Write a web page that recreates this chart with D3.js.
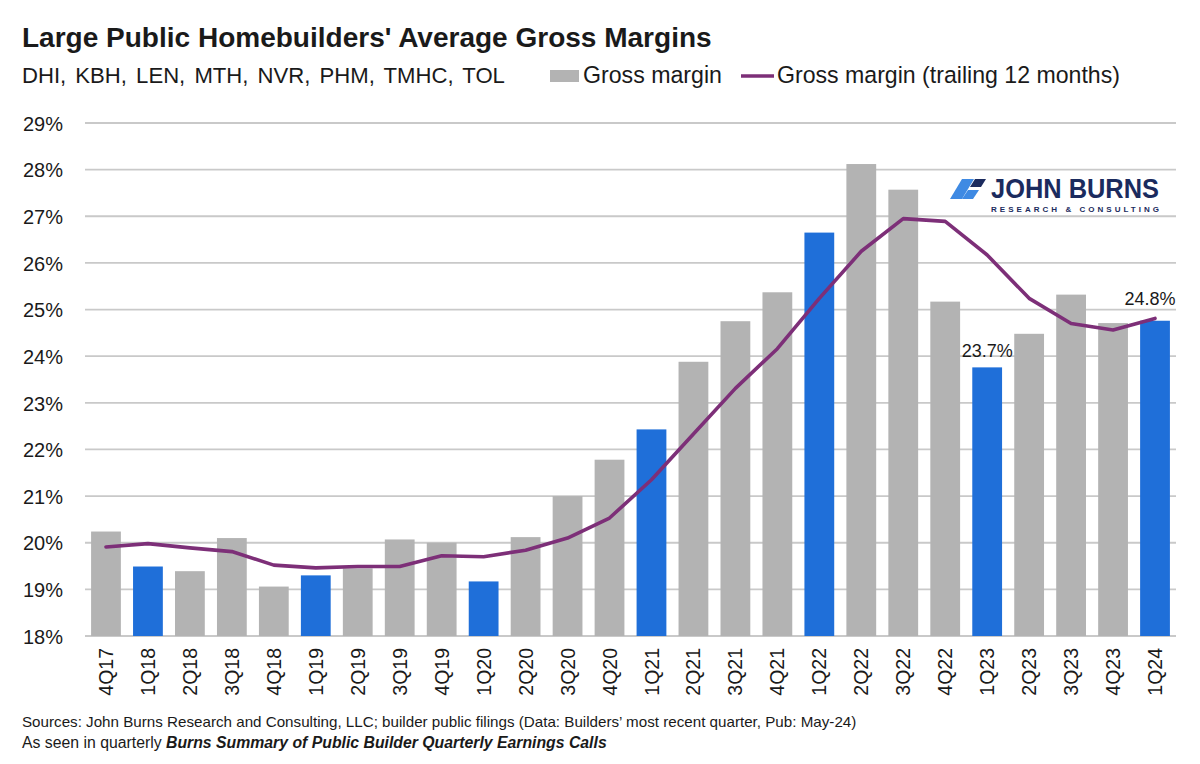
<!DOCTYPE html>
<html>
<head>
<meta charset="utf-8">
<script src="https://cdn.jsdelivr.net/npm/d3@7/dist/d3.min.js"></script>
<style>
  html, body { margin: 0; padding: 0; background: #ffffff; }
  svg { display: block; font-family: "Liberation Sans", Arial, Helvetica, sans-serif; }
</style>
</head>
<body>
<svg id="chart" width="1200" height="764"></svg>
<script>
// ---------------- DATA ----------------
const categories = ["4Q17","1Q18","2Q18","3Q18","4Q18","1Q19","2Q19","3Q19","4Q19","1Q20","2Q20","3Q20","4Q20",
  "1Q21","2Q21","3Q21","4Q21","1Q22","2Q22","3Q22","4Q22","1Q23","2Q23","3Q23","4Q23","1Q24"];
const grossMargin = [20.24,19.49,19.39,20.10,19.06,19.30,19.45,20.07,20.00,19.17,20.12,21.00,21.78,
  22.43,23.88,24.75,25.37,26.65,28.12,27.57,25.17,23.76,24.48,25.32,24.71,24.76];
const trailing12 = [19.91,19.98,19.89,19.81,19.52,19.46,19.49,19.49,19.72,19.70,19.84,20.10,20.53,
  21.35,22.33,23.31,24.16,25.24,26.25,26.95,26.89,26.17,25.24,24.70,24.56,24.81];
const yTicks = [18,19,20,21,22,23,24,25,26,27,28,29];
const dataLabels = [{cat:"1Q23", text:"23.7%", series:"bar"}, {cat:"1Q24", text:"24.8%", series:"line"}];

const titleText = "Large Public Homebuilders' Average Gross Margins";
const subtitleText = "DHI, KBH, LEN, MTH, NVR, PHM, TMHC, TOL";
const legendBar = "Gross margin";
const legendLine = "Gross margin (trailing 12 months)";
const sourceText = "Sources: John Burns Research and Consulting, LLC; builder public filings (Data: Builders\u2019 most recent quarter, Pub: May-24)";
const seenPrefix = "As seen in quarterly ";
const seenBold = "Burns Summary of Public Builder Quarterly Earnings Calls";

// ---------------- STYLE ----------------
const GRAY = "#b3b3b3", BLUE = "#1f6fd9", PURPLE = "#7d2f78", GRID = "#c9c9c9", TEXT = "#1a1a1a", NAVY = "#1b2b5e", LBLUE = "#3f8ae3";

const svg = d3.select("#chart");

function fit(sel, target) {
  const node = sel.node();
  const fs = parseFloat(sel.attr("font-size"));
  const len = node.getComputedTextLength();
  if (len > 0) sel.attr("font-size", (fs * target / len).toFixed(2));
  return sel;
}

// ---------------- SCALES ----------------
const x = d3.scaleBand().domain(categories).range([85, 1176]).paddingInner(0.29).paddingOuter(0.145);
const y = d3.scaleLinear().domain([18, 29]).range([636, 123]);

// gridlines
svg.append("g").selectAll("line").data(yTicks).join("line")
  .attr("x1", 85).attr("x2", 1176)
  .attr("y1", d => y(d)).attr("y2", d => y(d))
  .attr("stroke", GRID).attr("stroke-width", 1.8);

// y-axis labels
const yAxis = d3.axisLeft(y).tickValues(yTicks).tickFormat(d => d + "%").tickSize(0).tickPadding(0);
const yg = svg.append("g").attr("transform", "translate(63,0)").call(yAxis);
yg.select(".domain").remove();
yg.selectAll("text").attr("font-size", 20).attr("fill", TEXT)
  .attr("font-family", "'Liberation Sans', Arial, sans-serif").attr("dy", "0.36em");

// bars
svg.append("g").selectAll("rect").data(categories).join("rect")
  .attr("x", d => x(d))
  .attr("width", x.bandwidth())
  .attr("y", (d, i) => y(grossMargin[i]))
  .attr("height", (d, i) => y(18) - y(grossMargin[i]))
  .attr("fill", d => d.startsWith("1Q") ? BLUE : GRAY);

// line
const line = d3.line().x((d, i) => x(categories[i]) + x.bandwidth() / 2).y(d => y(d));
svg.append("path").datum(trailing12)
  .attr("d", line).attr("fill", "none")
  .attr("stroke", PURPLE).attr("stroke-width", 3.6)
  .attr("stroke-linejoin", "round").attr("stroke-linecap", "round");

// x-axis labels
const xAxis = d3.axisBottom(x).tickSize(0).tickPadding(0);
const xg = svg.append("g").attr("transform", "translate(0,648)").call(xAxis);
xg.select(".domain").remove();
xg.selectAll("text")
  .attr("font-size", 19.5).attr("fill", TEXT)
  .attr("font-family", "'Liberation Sans', Arial, sans-serif")
  .attr("text-anchor", "end")
  .attr("transform", "rotate(-90)")
  .attr("x", 0).attr("y", 0).attr("dy", "0.36em");

// data labels
dataLabels.forEach(l => {
  const i = categories.indexOf(l.cat);
  const v = l.series === "bar" ? grossMargin[i] : trailing12[i];
  const cx = x(l.cat) + x.bandwidth() / 2;
  svg.append("text")
    .attr("x", l.series === "bar" ? cx : cx - 5)
    .attr("y", y(v) - (l.series === "bar" ? 10.5 : 13.5))
    .attr("text-anchor", "middle").attr("font-size", 18).attr("fill", TEXT)
    .text(l.text);
});

// ---------------- TITLES ----------------
fit(svg.append("text").attr("x", 22).attr("y", 47).attr("font-size", 28).attr("font-weight", "bold")
  .attr("fill", TEXT).text(titleText), 690);
fit(svg.append("text").attr("x", 22).attr("y", 83).attr("font-size", 22).attr("fill", TEXT)
  .attr("word-spacing", 3).text(subtitleText), 483);

// legend
svg.append("rect").attr("x", 550).attr("y", 70).attr("width", 29).attr("height", 12).attr("fill", GRAY);
fit(svg.append("text").attr("x", 583).attr("y", 83).attr("font-size", 22).attr("fill", TEXT).text(legendBar), 139);
svg.append("line").attr("x1", 741).attr("x2", 774).attr("y1", 76).attr("y2", 76)
  .attr("stroke", PURPLE).attr("stroke-width", 3.6);
fit(svg.append("text").attr("x", 777).attr("y", 83).attr("font-size", 22).attr("fill", TEXT).text(legendLine), 343);

// footer
fit(svg.append("text").attr("x", 22).attr("y", 727).attr("font-size", 15).attr("fill", TEXT).text(sourceText), 835);
const f2 = svg.append("text").attr("x", 22).attr("y", 748).attr("font-size", 15).attr("fill", TEXT);
f2.append("tspan").text(seenPrefix);
f2.append("tspan").attr("font-weight", "bold").attr("font-style", "italic").text(seenBold);
fit(f2, 585);

// ---------------- LOGO ----------------
const logo = svg.append("g");
logo.append("polygon").attr("points", "962,179 974,179 962,199 950,199").attr("fill", LBLUE);
logo.append("polygon").attr("points", "975,179 986,179 981,187 970,187").attr("fill", NAVY);
logo.append("polygon").attr("points", "968,190 979,190 973,199 962,199").attr("fill", LBLUE);
logo.append("text").attr("x", 991).attr("y", 198).attr("font-size", 27.5).attr("font-weight", "bold")
  .attr("fill", NAVY).attr("textLength", 168).attr("lengthAdjust", "spacingAndGlyphs").text("JOHN BURNS");
logo.append("text").attr("x", 991).attr("y", 212).attr("font-size", 8).attr("font-weight", "bold")
  .attr("fill", NAVY).attr("textLength", 168).attr("lengthAdjust", "spacing").text("RESEARCH & CONSULTING");
</script>
</body>
</html>
